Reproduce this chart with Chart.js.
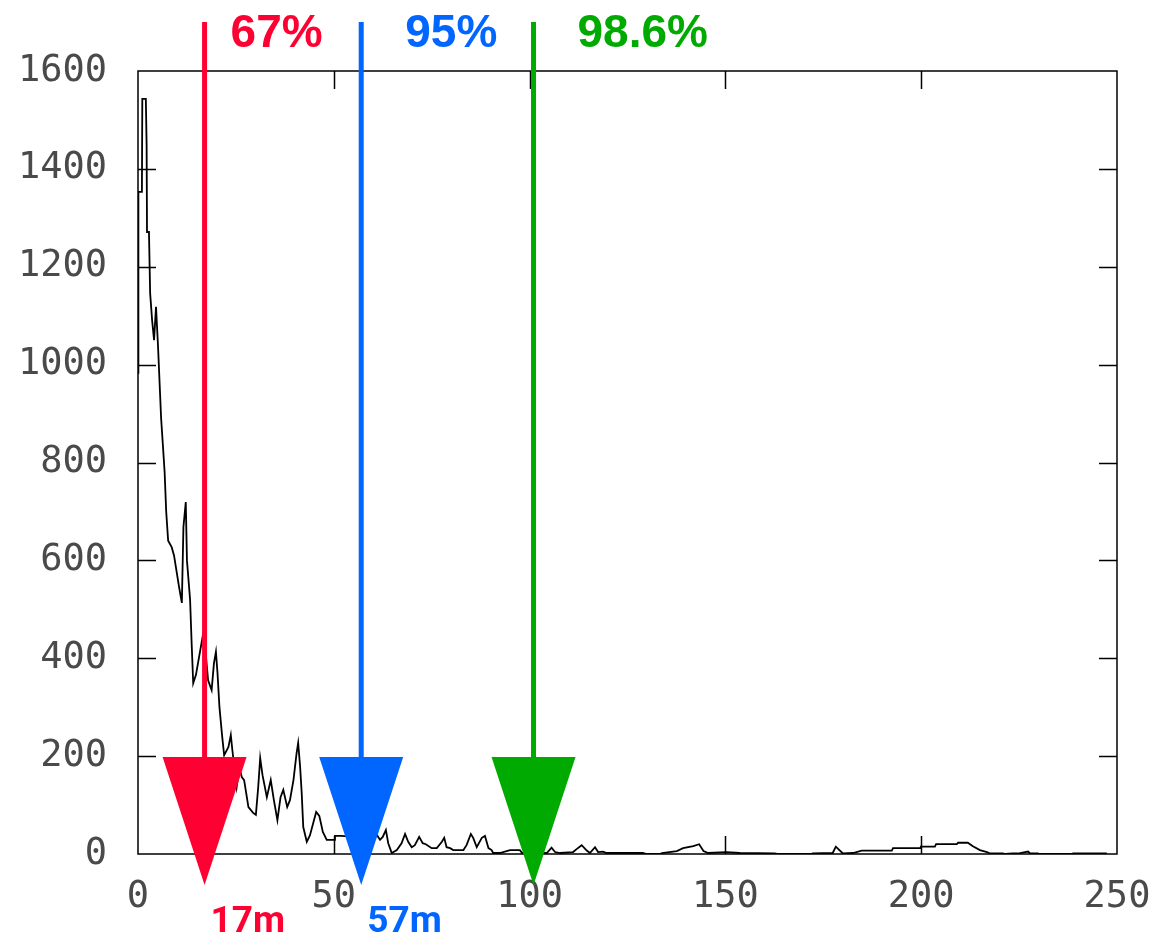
<!DOCTYPE html>
<html>
<head>
<meta charset="utf-8">
<script src="https://cdn.jsdelivr.net/npm/chart.js@4.4.1/dist/chart.umd.min.js"></script>
<style>
  html, body { margin: 0; padding: 0; background: #ffffff; }
  canvas { display: block; }
</style>
</head>
<body>
<canvas id="chart" width="1154" height="937"></canvas>
<script>
// Distance (m) of each sampled point along the curve
const distanceM = [
  0, 0.1, 1.0, 1.1, 2.0, 2.2, 2.3, 2.8, 3.1, 3.6, 4.1, 4.6, 5.1, 5.9, 6.4, 6.8, 7.2, 7.7, 8.6, 9.2,
  9.9, 10.5, 11.2, 11.6, 12.2, 12.5, 13.3, 13.7, 14.1, 14.8, 16.9, 17.4, 17.9, 18.8, 19.4, 19.9,
  20.3, 20.8, 21.5, 22.0, 23.1, 23.7, 24.1, 25.2, 25.9, 26.5, 27.1, 28.2, 29.4, 30.1, 30.7, 31.2,
  31.8, 32.9, 33.9, 34.7, 35.6, 36.4, 37.1, 38.1, 38.8, 39.7, 40.5, 40.9, 41.4, 41.8, 42.2, 43.1,
  43.9, 45.5, 46.3, 47.2, 48.2, 50.1, 50.3, 51.8, 60.5, 61.0, 61.8, 62.5, 63.3, 63.9, 64.8, 66.1,
  67.3, 68.2, 69.0, 69.9, 70.7, 71.8, 72.7, 73.5, 75.0, 76.3, 77.6, 78.2, 78.8, 79.7, 80.5, 83.1,
  83.9, 85.0, 85.6, 86.5, 87.8, 88.6, 89.5, 90.3, 90.7, 92.4, 95.0, 97.5, 98.1, 104.4, 105.6, 106.5,
  107.8, 111.1, 112.0, 113.3, 114.6, 115.4, 116.7, 117.5, 118.7, 119.7, 128.9, 129.9, 133.3, 133.8,
  137.6, 139.2, 141.8, 143.3, 144.4, 145.6, 150.2, 153.7, 162.6, 163.2, 171.9, 172.3, 177.4, 178.2,
  180.0, 182.6, 184.8, 192.5, 192.8, 199.7, 199.9, 203.5, 203.8, 209.1, 209.4, 211.9, 213.2, 215.0,
  216.8, 217.6, 220.9, 221.4, 223.4, 224.7, 227.3, 227.8, 229.8, 230.3, 238.3, 238.8, 247.4
];
// Count recorded at each of those distances
const counts = [
  983, 1353, 1353, 1543, 1543, 1449, 1271, 1271, 1146, 1091, 1050, 1118, 1040, 891, 830, 780, 700, 640, 627, 610,
  575, 545, 513, 668, 719, 600, 520, 430, 349, 366, 462, 400, 355, 335, 390, 413,
  370, 300, 240, 202, 219, 243, 212, 137, 178, 157, 151, 96, 84, 80, 137, 196,
  161, 116, 151, 110, 69, 116, 131, 96, 110, 151, 206, 227, 178, 125, 55, 25,
  38, 86, 78, 45, 29, 29, 37, 37, 33, 39, 29, 35, 49, 22, 2, 8,
  22, 41, 25, 14, 18, 35, 22, 20, 12, 12, 25, 33, 14, 12, 8, 8,
  18, 41, 33, 14, 33, 37, 12, 8, 2, 2, 8, 8, 2, 2, 13, 4,
  2, 4, 10, 18, 7, 2, 14, 4, 5, 2, 2, 0, 0, 2,
  6, 12, 16, 20, 6, 2, 4, 2, 1, 0, 0, 1, 2, 15,
  1, 2, 7, 7, 12, 12, 15, 15, 20, 20, 23, 23, 16, 8,
  4, 1, 1, 0, 1, 1, 5, 1, 1, 0, 0, 1, 1
];

const xTickValues = [0, 50, 100, 150, 200, 250];
const yTickValues = [0, 200, 400, 600, 800, 1000, 1200, 1400, 1600];

// Percentile markers: distance, share of samples, distance caption
const markerDistances = [17, 57, 101];
const markerPercents = ['67%', '95%', '98.6%'];
const markerCaptions = ['17m', '57m', ''];
const markerColors = ['#ff0033', '#0066ff', '#00aa00'];

const points = distanceM.map((d, i) => ({ x: d, y: counts[i] }));

const tickFont = { family: '"DejaVu Sans Mono", monospace', size: 37 };
const tickColor = '#4a4a4a';

// Plot frame plus tick marks pointing into the plot on all four sides
const framePlugin = {
  id: 'frameTicks',
  beforeDatasetsDraw(chart) {
    const { ctx, chartArea: a, scales } = chart;
    const len = 18;
    ctx.save();
    ctx.strokeStyle = '#000';
    ctx.lineWidth = 1.5;
    ctx.strokeRect(a.left, a.top, a.right - a.left, a.bottom - a.top);
    ctx.beginPath();
    scales.x.ticks.forEach(t => {
      if (t.value <= scales.x.min || t.value >= scales.x.max) return;
      const px = Math.round(scales.x.getPixelForValue(t.value)) + 0.5;
      ctx.moveTo(px, a.bottom); ctx.lineTo(px, a.bottom - len);
      ctx.moveTo(px, a.top); ctx.lineTo(px, a.top + len);
    });
    scales.y.ticks.forEach(t => {
      if (t.value <= scales.y.min || t.value >= scales.y.max) return;
      const py = Math.round(scales.y.getPixelForValue(t.value)) + 0.5;
      ctx.moveTo(a.left, py); ctx.lineTo(a.left + len, py);
      ctx.moveTo(a.right, py); ctx.lineTo(a.right - len, py);
    });
    ctx.stroke();
    ctx.restore();
  }
};

// Vertical arrows marking the percentile distances
const markerPlugin = {
  id: 'percentileMarkers',
  afterDraw(chart) {
    const { ctx, scales } = chart;
    const lineTop = 22, headTop = 757, tipY = 885, halfHead = 42;
    ctx.save();
    markerDistances.forEach((d, i) => {
      const px = scales.x.getPixelForValue(d);
      const col = markerColors[i];
      ctx.fillStyle = col;
      ctx.fillRect(px - 2.5, lineTop, 5, headTop - lineTop + 2);
      ctx.beginPath();
      ctx.moveTo(px - halfHead, headTop);
      ctx.lineTo(px + halfHead, headTop);
      ctx.lineTo(px, tipY);
      ctx.closePath();
      ctx.fill();

      ctx.font = 'bold 46px "Liberation Sans", Arial, sans-serif';
      ctx.textAlign = 'left';
      ctx.textBaseline = 'alphabetic';
      ctx.fillText(markerPercents[i], px + (i === 0 ? 26 : 44), 47);

      if (markerCaptions[i]) {
        ctx.font = 'bold 37px Roboto, "Liberation Sans", sans-serif';
        ctx.fillText(markerCaptions[i], px + 6, 932);
      }
    });
    ctx.restore();
  }
};

new Chart(document.getElementById('chart'), {
  type: 'line',
  data: {
    datasets: [{
      data: points,
      borderColor: '#000000',
      borderWidth: 1.8,
      pointRadius: 0,
      tension: 0,
      fill: false
    }]
  },
  options: {
    responsive: false,
    animation: false,
    devicePixelRatio: 1,
    layout: { padding: { top: 71, right: 37, left: 0, bottom: 0 } },
    plugins: { legend: { display: false }, tooltip: { enabled: false } },
    scales: {
      x: {
        type: 'linear',
        min: 0, max: 250,
        afterBuildTicks: s => { s.ticks = xTickValues.map(v => ({ value: v })); },
        afterFit: s => { s.height = 83; s.paddingLeft = 0; s.paddingRight = 0; },
        grid: { display: false, drawTicks: false },
        border: { display: false },
        ticks: { font: tickFont, color: tickColor, padding: 21, maxRotation: 0, autoSkip: false,
                 callback: v => String(v) }
      },
      y: {
        type: 'linear',
        min: 0, max: 1600,
        afterBuildTicks: s => { s.ticks = yTickValues.map(v => ({ value: v })); },
        afterFit: s => { s.width = 138; s.paddingTop = 0; s.paddingBottom = 0; },
        grid: { display: false, drawTicks: false },
        border: { display: false },
        ticks: { font: tickFont, color: tickColor, padding: 31, autoSkip: false,
                 callback: v => String(v) }
      }
    }
  },
  plugins: [framePlugin, markerPlugin]
});
</script>
</body>
</html>
